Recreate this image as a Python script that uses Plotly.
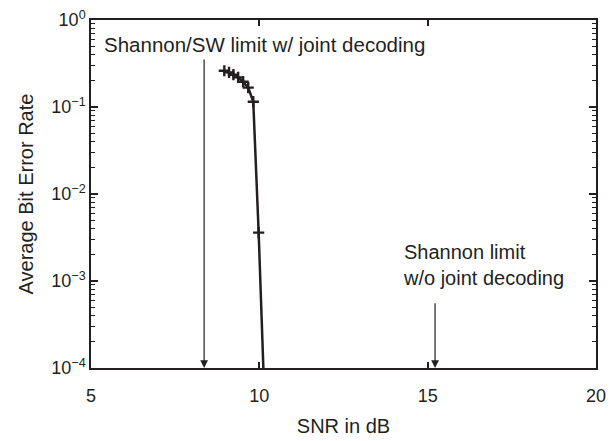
import plotly.graph_objects as go

# Data
snr_db = [8.96, 9.10, 9.23, 9.37, 9.52, 9.67, 9.82, 9.98, 10.12]
avg_ber = [0.261, 0.25, 0.235, 0.219, 0.195, 0.167, 0.115, 0.0036, 1e-4]
n_marked = 8  # the last point is where the curve leaves the axes

sw_limit_db = 8.36       # Shannon/SW limit w/ joint decoding
shannon_limit_db = 15.22  # Shannon limit w/o joint decoding

x_ticks = [5, 10, 15, 20]
y_tickvals = [1e-4, 1e-3, 1e-2, 1e-1, 1]
y_ticktext = ["10<sup>−4</sup>", "10<sup>−3</sup>", "10<sup>−2</sup>", "10<sup>−1</sup>", "10<sup>0</sup>"]
y_minor = [m * d for d in y_tickvals[:-1] for m in range(2, 10)]

FONT = "Liberation Sans, Arial, Helvetica, sans-serif"
INK = "#231f20"

fig = go.Figure()
fig.add_trace(go.Scatter(x=snr_db, y=avg_ber, mode="lines",
                         line=dict(color=INK, width=2.5), showlegend=False))
fig.add_trace(go.Scatter(x=snr_db[:n_marked], y=avg_ber[:n_marked], mode="markers",
                         marker=dict(symbol="cross-thin", size=8,
                                     line=dict(color=INK, width=2.4)),
                         showlegend=False))
# carrier trace for the minor-tick axis (not visible)
fig.add_trace(go.Scatter(x=snr_db, y=avg_ber, yaxis="y2", mode="markers",
                         marker=dict(opacity=0), hoverinfo="skip", showlegend=False))

# arrows
fig.add_annotation(x=sw_limit_db, y=-4, ax=sw_limit_db, ay=-0.437,
                   xref="x", yref="y", axref="x", ayref="y", text="",
                   showarrow=True, arrowhead=2, arrowsize=1.3, arrowwidth=1.2,
                   arrowcolor=INK, standoff=0)
fig.add_annotation(x=shannon_limit_db, y=-4, ax=shannon_limit_db, ay=-3.238,
                   xref="x", yref="y", axref="x", ayref="y", text="",
                   showarrow=True, arrowhead=2, arrowsize=1.3, arrowwidth=1.2,
                   arrowcolor=INK, standoff=0)

# labels
fig.add_annotation(x=5.33, y=-0.276, xref="x", yref="y", xanchor="left", yanchor="middle",
                   text="Shannon/SW limit w/ joint decoding", showarrow=False,
                   font=dict(family=FONT, size=20.5, color=INK))
fig.add_annotation(x=14.2, y=-2.816, xref="x", yref="y", xanchor="left", yanchor="middle",
                   text="Shannon limit<br>w/o joint decoding", showarrow=False, align="left",
                   font=dict(family=FONT, size=20, color=INK))

fig.update_layout(
    xaxis=dict(range=[5, 20], tickvals=x_ticks, ticks="inside", ticklen=6, tickwidth=1.5,
               tickcolor=INK, showline=True, linecolor=INK, linewidth=1.5,
               mirror="ticks", showgrid=False, zeroline=False, automargin=False,
               ticklabelstandoff=11, ticklabeloverflow="allow",
               title=dict(text="SNR in dB", font=dict(family=FONT, size=20, color=INK), standoff=14),
               tickfont=dict(family=FONT, size=18, color=INK)),
    yaxis=dict(type="log", range=[-4, 0], tickvals=y_tickvals, ticktext=y_ticktext,
               ticks="inside", ticklen=7, tickwidth=1.5, tickcolor=INK,
               showline=True, linecolor=INK, linewidth=1.5, mirror="ticks",
               showgrid=False, zeroline=False, automargin=False,
               ticklabeloverflow="allow",
               title=dict(text="Average Bit Error Rate", font=dict(family=FONT, size=20, color=INK), standoff=12),
               tickfont=dict(family=FONT, size=18, color=INK)),
    yaxis2=dict(type="log", range=[-4, 0], overlaying="y", side="left",
                tickmode="array", tickvals=y_minor, ticks="inside", ticklen=4, tickwidth=1.2,
                tickcolor=INK, showticklabels=False, showline=True, linecolor=INK,
                linewidth=1.5, mirror="ticks", showgrid=False, zeroline=False,
                automargin=False),
    width=611, height=441,
    margin=dict(l=91, r=15, t=20, b=73, autoexpand=False),
    plot_bgcolor="white", paper_bgcolor="white",
    font=dict(family=FONT, size=18, color=INK),
)

fig.write_html("out.html", config={"displayModeBar": False},
               post_script="document.body.style.margin='0';document.body.style.overflow='hidden';")
